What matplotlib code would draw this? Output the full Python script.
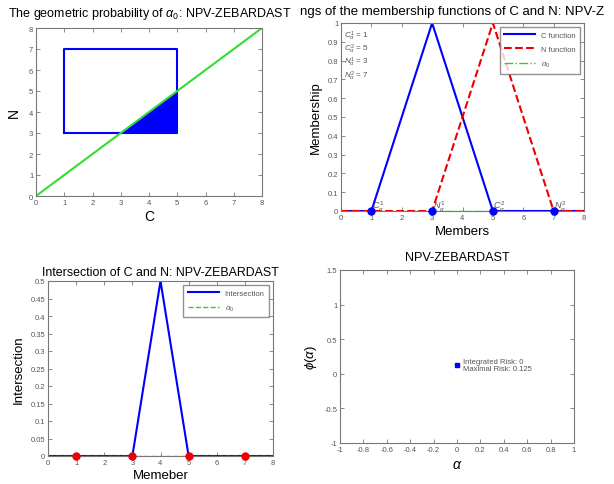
import numpy as np
import matplotlib
matplotlib.use("Agg")
import matplotlib.pyplot as plt

plt.rcParams['font.family'] = ['Liberation Sans', 'DejaVu Sans']
plt.rcParams['mathtext.fontset'] = 'custom'
plt.rcParams['mathtext.rm'] = 'Liberation Sans'
plt.rcParams['mathtext.it'] = 'Liberation Sans:italic'

# ---- data ----
rect_c = [1, 5, 5, 1, 1]
rect_n = [3, 3, 7, 7, 3]
diag = [0, 8]
tri_c = [3, 5, 5]          # region C > N inside the rectangle
tri_n = [3, 3, 5]

members = [0, 1, 3, 5, 7, 8]
c_mu = [0, 0, 1, 0, 0, 0]
n_mu = [0, 0, 0, 1, 0, 0]
alpha_pts = [1, 3, 5, 7]
alpha_lbl = [r'$C_\alpha^1$', r'$N_\alpha^1$', r'$C_\alpha^2$', r'$N_\alpha^2$']
notes = [r'$C_\alpha^1$ = 1', r'$C_\alpha^2$ = 5', r'$N_\alpha^1$ = 3', r'$N_\alpha^2$ = 7']

inter_x = [0, 3, 4, 5, 8]
inter_y = [0, 0, 0.5, 0, 0]

risk_alpha = [0]
risk_phi = [0.125]
integrated_risk = 0
maximal_risk = 0.125

W, H = 614, 485
fig = plt.figure(figsize=(W / 100, H / 100), dpi=100)
GREY = '#555555'


def ax_px(l, t, r, b):
    return fig.add_axes([l / W, 1 - b / H, (r - l) / W, (b - t) / H])


def matlab_style(ax):
    for sp in ax.spines.values():
        sp.set_color('#777777')
        sp.set_linewidth(0.8)
    ax.tick_params(direction='in', length=3, width=0.6, labelsize=5.5,
                   colors='#777777', labelcolor=GREY, top=True, right=True, pad=2)


# ----- top left: geometric probability -----
ax1 = ax_px(36, 29, 262, 197)
ax1.plot(rect_c, rect_n, color='#0000ff', lw=1.5)
ax1.fill(tri_c, tri_n, color='#0000ff', lw=0)
ax1.plot(diag, diag, color='#33dd33', lw=1.5)
ax1.set_xlim(0, 8); ax1.set_ylim(0, 8)
ax1.set_xticks(range(9)); ax1.set_yticks(range(9))
matlab_style(ax1)
ax1.set_xlabel('C', fontsize=10, labelpad=2)
ax1.set_ylabel('N', fontsize=10, labelpad=6)
fig.text(8 / W, 1 - 14 / H, r'The geometric probability of $\alpha_0$: NPV-ZEBARDAST',
         fontsize=9, va='center', ha='left')

# ----- top right: membership functions -----
ax2 = ax_px(341, 24, 584, 212)
ax2.plot(members, [0] * len(members), color='#33cc33', lw=1, ls='-.', zorder=1)
ax2.plot(members, c_mu, color='#0000ff', lw=1.5, label='C function', zorder=2)
ax2.plot(members, n_mu, color='#ee0000', lw=1.5, ls='--', label='N function', zorder=2)
ax2.plot([], [], color='#33cc33', lw=1, ls='-.', label=r'$\alpha_0$')
ax2.plot(alpha_pts, [0] * 4, 'o', color='#0000ff', ms=5, zorder=4, clip_on=False)
for xp, lb in zip(alpha_pts, alpha_lbl):
    ax2.text(xp + 0.02, -0.01, lb, fontsize=6.5, color=GREY, va='bottom', ha='left', zorder=3)
ax2.text(0.1, 0.83, '\n'.join(notes), fontsize=5.8, color=GREY, va='center', ha='left',
         linespacing=1.0)
ax2.set_xlim(0, 8); ax2.set_ylim(0, 1)
ax2.set_xticks(range(9)); ax2.set_yticks(np.arange(0, 1.01, 0.1))
ax2.set_yticklabels(['0', '0.1', '0.2', '0.3', '0.4', '0.5', '0.6', '0.7', '0.8', '0.9', '1'])
matlab_style(ax2)
ax2.set_xlabel('Members', fontsize=9.5, labelpad=3)
ax2.set_ylabel('Membership', fontsize=9.5, labelpad=4)
leg = ax2.legend(loc='upper right', fontsize=5.5, frameon=True, fancybox=False,
                 edgecolor='#777777', handlelength=4, borderpad=0.6, labelspacing=0.9)
for t in leg.get_texts():
    t.set_color(GREY)
fig.text(300 / W, 1 - 12 / H, 'ngs of the membership functions of C and N: NPV-Z',
         fontsize=9.5, va='center', ha='left')

# ----- bottom left: intersection -----
ax3 = ax_px(48, 282, 273, 457)
ax3.plot(inter_x, inter_y, color='#0000ff', lw=1.5, label='Intersection')
ax3.plot([0, 8], [0, 0], color='#33cc33', lw=1, ls='--', label=r'$\alpha_0$')
ax3.plot(alpha_pts, [0] * 4, 'o', color='#ee0000', ms=5, zorder=4, clip_on=False)
ax3.set_xlim(0, 8); ax3.set_ylim(0, 0.5)
ax3.set_xticks(range(9)); ax3.set_yticks(np.arange(0, 0.501, 0.05))
ax3.set_yticklabels(['0', '0.05', '0.1', '0.15', '0.2', '0.25', '0.3', '0.35', '0.4', '0.45', '0.5'])
matlab_style(ax3)
ax3.set_xlabel('Memeber', fontsize=9.5, labelpad=2)
ax3.set_ylabel('Intersection', fontsize=9.5, labelpad=4)
leg = ax3.legend(loc='upper right', fontsize=5.5, frameon=True, fancybox=False,
                 edgecolor='#777777', handlelength=4, borderpad=0.6, labelspacing=0.9)
for t in leg.get_texts():
    t.set_color(GREY)
ax3.set_title('Intersection of C and N: NPV-ZEBARDAST', fontsize=8.9, pad=4)

# ----- bottom right: risk -----
ax4 = ax_px(340, 271, 574, 444)
ax4.plot(risk_alpha, risk_phi, 's', color='#0000ff', ms=2.5)
ax4.text(0.05, risk_phi[0],
         f'Integrated Risk: {integrated_risk}\nMaximal Risk: {maximal_risk}',
         fontsize=5.5, color=GREY, va='center', ha='left', linespacing=1.1)
ax4.set_xlim(-1, 1); ax4.set_ylim(-1, 1.5)
ax4.set_xticks(np.arange(-1, 1.01, 0.2)); ax4.set_yticks(np.arange(-1, 1.51, 0.5))
ax4.set_xticklabels(['-1', '-0.8', '-0.6', '-0.4', '-0.2', '0', '0.2', '0.4', '0.6', '0.8', '1'])
ax4.set_yticklabels(['-1', '-0.5', '0', '0.5', '1', '1.5'])
matlab_style(ax4)
ax4.set_xlabel(r'$\alpha$', fontsize=10, labelpad=3)
ax4.set_ylabel(r'$\phi(\alpha)$', fontsize=9.5, labelpad=4)
ax4.set_title('NPV-ZEBARDAST', fontsize=9.1, pad=7)

fig.savefig('out.png', dpi=100)
